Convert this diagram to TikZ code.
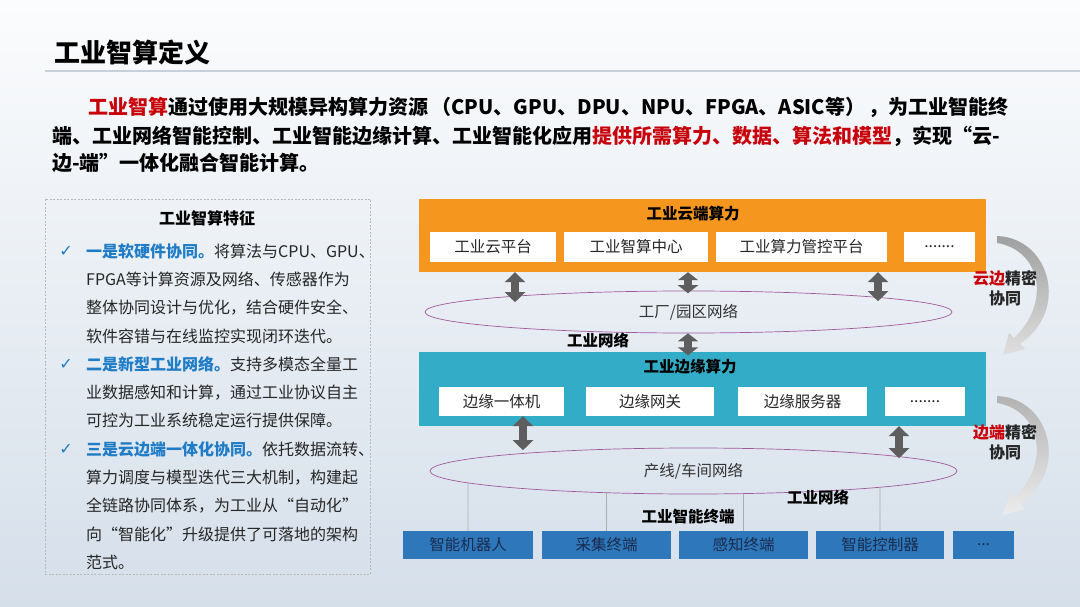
\documentclass[tikz,border=0pt]{standalone}
\usepackage{fontspec}
\setmainfont{Noto Sans CJK SC}
\newfontfamily\symfont{DejaVu Sans}
\usetikzlibrary{arrows.meta,shapes.geometric,intersections}
\definecolor{cloudorange}{HTML}{F5971F}
\definecolor{edgeteal}{HTML}{33ADC7}
\definecolor{termblue}{HTML}{2E77BA}
\definecolor{termink}{HTML}{1A2C4E}
\definecolor{keyred}{HTML}{C8000A}
\definecolor{leadblue}{HTML}{1F7CC6}
\definecolor{ringpurple}{HTML}{A05A9C}
\definecolor{arrowgray}{HTML}{5E5E5E}
\definecolor{bgtop}{HTML}{FBFCFD}
\definecolor{bgbottom}{HTML}{D5DFEA}
\colorlet{inkmuted}{black!60}
\newcommand\setfs[1]{\fontsize{#1}{#1}\selectfont}
\newcommand\featlead[1]{\textcolor{leadblue}{\bfseries #1}}

\begin{document}
\begin{tikzpicture}[x=1pt, y=-1pt,
  cellbox/.style={fill=white, inner sep=0pt, minimum height=29, text=black!85, font=\setfs{15.5}},
  termbox/.style={fill=termblue, inner sep=0pt, minimum height=28, text=termink, font=\setfs{15.5}},
  layertitle/.style={inner sep=0pt, font=\bfseries\setfs{15.5}},
  netring/.style={ellipse, draw=ringpurple, line width=0.7pt, inner sep=0pt, text=black!80, font=\setfs{15.5}},
  dblarrow/.style={draw=arrowgray, line width=8pt, {Triangle[width=20pt,length=#1]}-{Triangle[width=20pt,length=#1]}},
  dblarrow/.default=10pt,
  feedline/.style={draw=gray!65, line width=0.6pt},
  paraline/.style={anchor=west, inner sep=0pt, font=\bfseries\setfs{20}},
  featline/.style={anchor=west, inner sep=0pt, text=black!85, font=\setfs{16}},
  synclabel/.style={align=center, inner sep=0pt, text=black!85, font=\bfseries\fontsize{16}{20}\selectfont}]
\useasboundingbox (0,0) rectangle (1080,607);
\shade[top color=bgtop, bottom color=bgbottom] (0,0) rectangle (1080,607);

% title and definition
\node[anchor=west, inner sep=0pt, font=\bfseries\setfs{26}] (title) at (54,53) {工业智算定义};
\draw[draw={rgb,255:red,198;green,207;blue,218}, line width=1.2pt] (45,71) -- (1080,71);
\node[paraline] (para1) at (88,107) {\textcolor{keyred}{工业智算}通过使用大规模异构算力资源\,（CPU、GPU、DPU、NPU、FPGA、ASIC等）\,，为工业智能终};
\node[paraline] (para2) at (52,136) {端、工业网络智能控制、工业智能边缘计算、工业智能化应用\textcolor{keyred}{提供所需算力、数据、算法和模型}，实现“云-};
\node[paraline] (para3) at (52,163) {边-端”一体化融合智能计算。};

% features
\node[draw=gray!55, dash pattern=on 2pt off 1.5pt, line width=0.6pt, minimum width=325, minimum height=375, inner sep=0pt] (featpanel) at (207.5,386.5) {};
\node[inner sep=0pt, font=\bfseries\setfs{16}] (feattitle) at (207,218) {工业智算特征};
\foreach \txt [count=\i] in {
  {\featlead{一是软硬件协同。}将算法与CPU、GPU、},
  {FPGA等计算资源及网络、传感器作为},
  {整体协同设计与优化，结合硬件安全、},
  {软件容错与在线监控实现闭环迭代。},
  {\featlead{二是新型工业网络。}支持多模态全量工},
  {业数据感知和计算，通过工业协议自主},
  {可控为工业系统稳定运行提供保障。},
  {\featlead{三是云边端一体化协同。}依托数据流转、},
  {算力调度与模型迭代三大机制，构建起},
  {全链路协同体系，为工业从“自动化”},
  {向“智能化”升级提供了可落地的架构},
  {范式。}}
  \node[featline] (feat\i) at (86,{251+28.3*(\i-1)}) {\txt};
\foreach \i in {1,5,8}
  \node[inner sep=0pt, text=leadblue, font=\symfont\setfs{16}] (tick\i) at (66,{251+28.3*(\i-1)}) {✓};

% cloud layer
\node[fill=cloudorange, minimum width=567, minimum height=73, inner sep=0pt] (cloud) at (702.5,235.5) {};
\node[layertitle] (cloudtitle) at (693,214) {工业云端算力};
\node[cellbox, minimum width=126] (cloudplat) at (493,247) {工业云平台};
\node[cellbox, minimum width=144] (smartctr) at (636,247) {工业智算中心};
\node[cellbox, minimum width=171] (ctrlplat) at (801.5,247) {工业算力管控平台};
\node[cellbox, minimum width=71] (cloudmore) at (939.5,247) {.......};

\node[netring, minimum width=527, minimum height=42] (fnet) at (688.5,312) {工厂/园区网络};
\node[layertitle] (netlabA) at (598,340) {工业网络};

% edge layer
\node[fill=edgeteal, minimum width=567, minimum height=74, inner sep=0pt] (edge) at (702.5,389) {};
\node[layertitle] (edgetitle) at (690,367) {工业边缘算力};
\node[cellbox, minimum width=125] (edgepc) at (501.5,401.5) {边缘一体机};
\node[cellbox, minimum width=128] (edgegw) at (650,401.5) {边缘网关};
\node[cellbox, minimum width=129] (edgesrv) at (802.5,401.5) {边缘服务器};
\node[cellbox, minimum width=80] (edgemore) at (925,401.5) {.......};

\node[netring, minimum width=527, minimum height=46] (wsnet) at (693.5,471) {产线/车间网络};
\path[name path=wsring] (wsnet.center) ellipse [x radius=263.5, y radius=23];
\node[layertitle] (netlabB) at (818,497) {工业网络};
\node[layertitle] (termtitle) at (688,517) {工业智能终端};

% terminals
\node[termbox, minimum width=130] (robot) at (468,545) {智能机器人};
\node[termbox, minimum width=129] (collect) at (606.5,545) {采集终端};
\node[termbox, minimum width=129] (sense) at (743.5,545) {感知终端};
\node[termbox, minimum width=128] (ctrl) at (880,545) {智能控制器};
\node[termbox, minimum width=61] (termmore) at (983.5,545) {...};

\foreach \t in {robot,collect,sense,ctrl}{
  \path[name path=vline] (\t.north) -- ++(0,-60);
  \draw[feedline, name intersections={of=wsring and vline}] (\t.north) -- (intersection-1);
}

% links between layers
\draw[dblarrow] (cloud.south -| 515,0) -- ++(0,30);
\draw[dblarrow=8pt] (cloud.south -| 688,0) -- ++(0,21);
\draw[dblarrow] (cloud.south -| 878,0) -- ++(0,29);
\draw[dblarrow=8pt] (fnet.south -| 688,0) -- ++(0,22);
\draw[dblarrow] (edgepc.south -| 523,0) -- ++(0,34);
\draw[dblarrow] (edge.south -| 899,0) -- ++(0,32);

% collaboration arrows
\shade[top color=gray!75, bottom color=gray!25] (997,236) .. controls (1050,238) and (1070,310) .. (1020,344) -- (1025,349) -- (1003,355) -- (1009,333) -- (1014,338) .. controls (1052,302) and (1040,250) .. (997,243) -- cycle;
\begin{scope}[shift={(0,160)}]
\shade[top color=gray!60, bottom color=gray!15] (997,236) .. controls (1050,238) and (1070,310) .. (1020,344) -- (1025,349) -- (1003,355) -- (1009,333) -- (1014,338) .. controls (1052,302) and (1040,250) .. (997,243) -- cycle;
\end{scope}
\node[synclabel] (cesync) at (1005,288) {\textcolor{keyred}{云边}精密\\协同};
\node[synclabel] (etsync) at (1005,442) {\textcolor{keyred}{边端}精密\\协同};
\end{tikzpicture}
\end{document}
